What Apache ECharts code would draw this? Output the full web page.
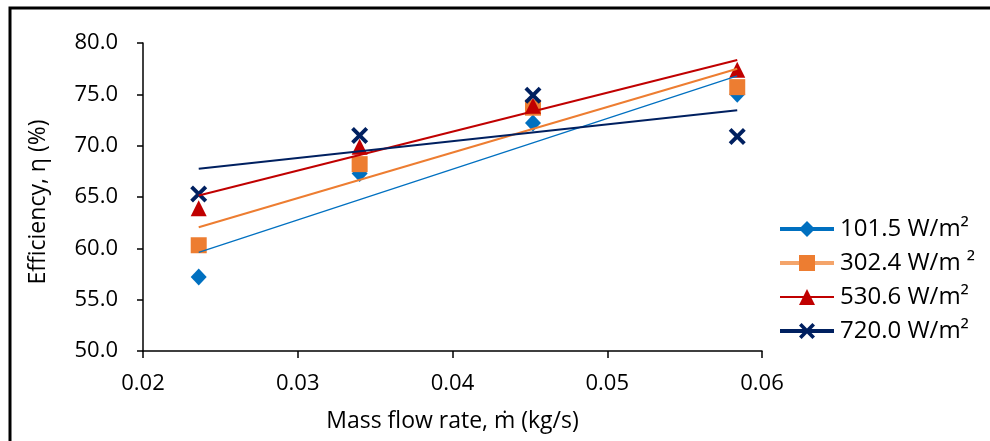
<!DOCTYPE HTML>
<html>
	<head>
		<meta charset="utf-8">
		<script src="https://cdn.jsdelivr.net/npm/echarts@6/dist/echarts.min.js"></script>
		<style>
			html, body { margin: 0; padding: 0; background: #fff; }
			#chart { width: 990px; height: 441px; }
		</style>
	</head>
	<body>
		<div id="chart"></div>
		<script type="text/javascript">

			// Measured points (mass flow rate vs efficiency)
			const flowRate = [0.0236, 0.0340, 0.0452, 0.0584];
			const eff101 = [57.2, 67.3, 72.2, 75.0];
			const eff302 = [60.3, 68.2, 73.7, 75.7];
			const eff530 = [63.9, 69.9, 73.9, 77.4];
			const eff720 = [65.3, 71.0, 74.9, 70.9];

			// Linear trendline ends
			const trendX = [0.0236, 0.0584];
			const trend101 = [59.6, 76.8];
			const trend302 = [62.05, 77.5];
			const trend530 = [65.15, 78.35];
			const trend720 = [67.75, 73.45];

			const legendNames = ['101.5 W/m²', '302.4 W/m ²', '530.6 W/m²', '720.0 W/m²'];

			const FONT = 'Open Sans';
			const crossPath = 'path://M0,2.6 L2.6,0 L8,5.4 L13.4,0 L16,2.6 L10.6,8 L16,13.4 L13.4,16 L8,10.6 L2.6,16 L0,13.4 L5.4,8 Z';

			function pairs(xs, ys) {
				return xs.map(function(x, i) { return [x, ys[i]]; });
			}

			function pointSeries(name, ys, color, symbol, size) {
				return {
					name: name,
					type: 'line',
					data: pairs(flowRate, ys),
					symbol: symbol,
					symbolSize: size,
					lineStyle: { width: 0, opacity: 0 },
					itemStyle: { color: color, opacity: 1 },
					z: 2,
					silent: true,
					animation: false
				};
			}

			function trendSeries(ys, color, width) {
				return {
					type: 'line',
					data: pairs(trendX, ys),
					symbol: 'none',
					lineStyle: { color: color, width: width },
					z: 3,
					silent: true,
					animation: false
				};
			}

			var chart = echarts.init(document.getElementById('chart'));

			var options = {
				animation: false,
				backgroundColor: '#fff',
				graphic: [{
					type: 'rect',
					shape: { x: 10, y: 8, width: 1000, height: 460 },
					style: { fill: 'none', stroke: '#000', lineWidth: 3 },
					z: 10
				}],
				grid: { left: 143, right: 228, top: 43, bottom: 90 },
				legend: {
					orient: 'vertical',
					left: 778,
					top: 217,
					padding: 0,
					itemWidth: 54,
					itemHeight: 20,
					itemGap: 10,
					textStyle: { fontFamily: FONT, fontSize: 24, color: '#000', padding: [0, 0, 0, 1] },
					data: [
						{ name: legendNames[0], lineStyle: { width: 4, color: '#0070C0', opacity: 1 } },
						{ name: legendNames[1], lineStyle: { width: 4, color: '#F4A46A', opacity: 1 } },
						{ name: legendNames[2], lineStyle: { width: 2, color: '#C00000', opacity: 1 } },
						{ name: legendNames[3], lineStyle: { width: 4, color: '#002060', opacity: 1 } }
					]
				},
				xAxis: {
					type: 'value',
					min: 0.02,
					max: 0.06,
					interval: 0.01,
					name: 'Mass flow rate, ṁ (kg/s)',
					nameLocation: 'middle',
					nameGap: 59,
					nameTextStyle: { fontFamily: FONT, fontSize: 23, color: '#000' },
					axisLine: { lineStyle: { color: '#000', width: 1.5 } },
					axisTick: { length: 7, lineStyle: { color: '#000', width: 1.5 } },
					axisLabel: {
						margin: 22,
						fontFamily: FONT, fontSize: 22, color: '#000',
						formatter: function(v) { return v.toFixed(2); }
					},
					splitLine: { show: false }
				},
				yAxis: {
					type: 'value',
					min: 50,
					max: 80,
					interval: 5,
					name: 'Efficiency, η (%)',
					nameLocation: 'middle',
					nameGap: 93,
					nameTextStyle: { fontFamily: FONT, fontSize: 23, color: '#000', padding: [0, 10, 0, 0] },
					axisLine: { show: true, lineStyle: { color: '#000', width: 1.5 } },
					axisTick: { show: true, length: 6, lineStyle: { color: '#000', width: 1.5 } },
					axisLabel: {
						margin: 25,
						fontFamily: FONT, fontSize: 22, color: '#000',
						formatter: function(v) { return v.toFixed(1); }
					},
					splitLine: { show: false }
				},
				series: [
					pointSeries(legendNames[0], eff101, '#0070C0', 'diamond', [16, 17]),
					pointSeries(legendNames[1], eff302, '#ED7D31', 'rect', 16),
					pointSeries(legendNames[2], eff530, '#C00000', 'triangle', 16),
					pointSeries(legendNames[3], eff720, '#002060', crossPath, 17),
					trendSeries(trend101, '#0070C0', 1.2),
					trendSeries(trend302, '#ED7D31', 2),
					trendSeries(trend530, '#C00000', 2),
					trendSeries(trend720, '#002060', 2)
				]
			};

			chart.setOption(options);

		</script>
	</body>
</html>
